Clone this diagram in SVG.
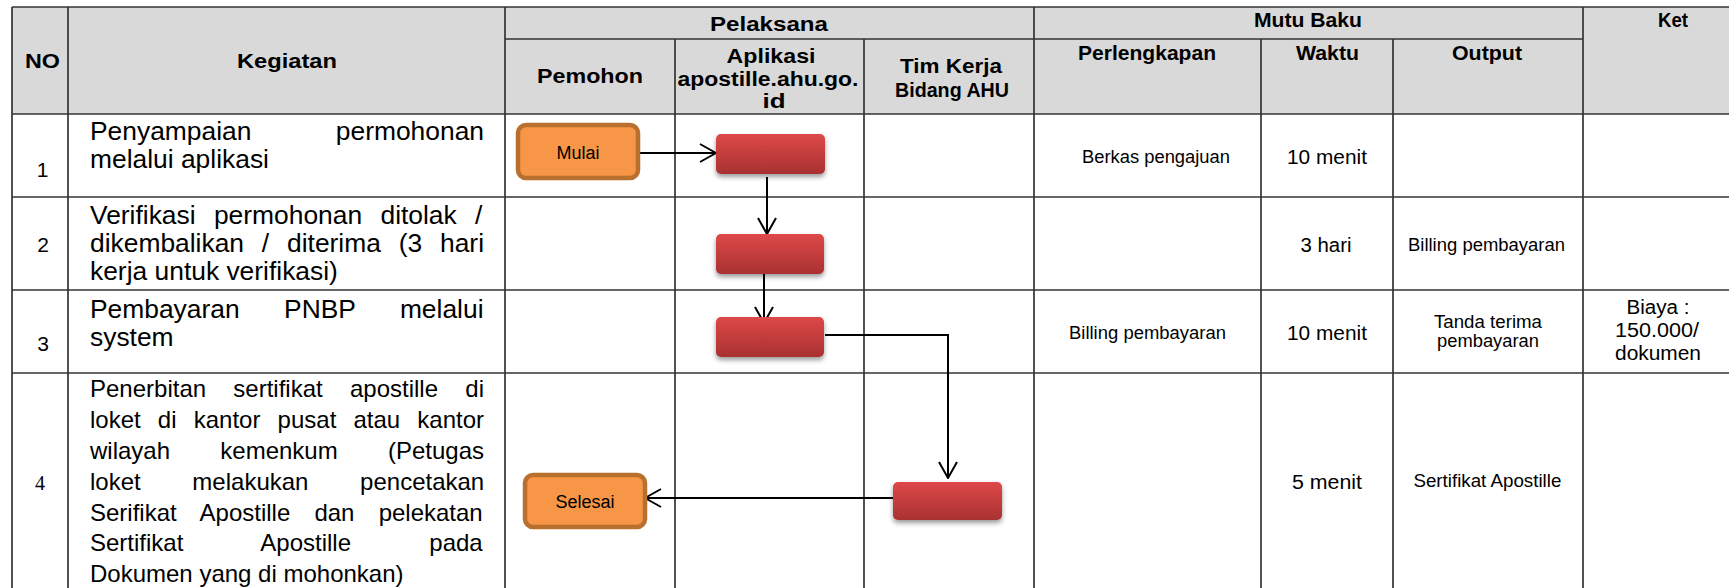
<svg xmlns="http://www.w3.org/2000/svg" width="1729" height="588" viewBox="0 0 1729 588">
<style>
text{font-family:"Liberation Sans",Arial,sans-serif;fill:#000}
.hd{font-weight:bold;font-size:19.5px;text-anchor:middle}
.tx{font-size:26.4px}
.tx4{font-size:24px}
.sm{font-size:17.5px;text-anchor:middle}
.md{font-size:19.5px;text-anchor:middle}
.num{font-size:21px;text-anchor:middle}
.num4{font-family:"Liberation Serif","Times New Roman",serif;font-size:20px;text-anchor:middle}
.grid line{stroke:#333;stroke-width:1.7}
.conn path{fill:none;stroke:#000;stroke-width:2;marker-end:url(#arr)}
.start rect{fill:#F79646;stroke:#B9702F;stroke-width:4.5}
.start text{font-size:18px;text-anchor:middle}
.proc rect{fill:url(#red);filter:url(#sh)}
</style>
<defs>
<linearGradient id="red" x1="0" y1="0" x2="0" y2="1">
<stop offset="0" stop-color="#DE4848"/>
<stop offset="1" stop-color="#A93131"/>
</linearGradient>
<filter id="sh" x="-20%" y="-30%" width="140%" height="180%">
<feDropShadow dx="0" dy="3" stdDeviation="2.5" flood-color="#000" flood-opacity="0.4"/>
</filter>
<marker id="arr" viewBox="0 0 18 20" refX="17" refY="10" markerWidth="18" markerHeight="20" markerUnits="userSpaceOnUse" orient="auto">
<path d="M1,1 L17,10 L1,19" fill="none" stroke="#000" stroke-width="2"/>
</marker>
</defs>
<rect x="0" y="0" width="1729" height="588" fill="#fff"/>
<g id="table">
<rect x="12" y="7" width="1717" height="107" fill="#D9D9D9"/>
<g class="grid">
<line x1="12" y1="7" x2="1729" y2="7"/>
<line x1="505" y1="39" x2="1583" y2="39"/>
<line x1="12" y1="114" x2="1729" y2="114"/>
<line x1="12" y1="197" x2="1729" y2="197"/>
<line x1="12" y1="290" x2="1729" y2="290"/>
<line x1="12" y1="373" x2="1729" y2="373"/>
<line x1="12" y1="7" x2="12" y2="588"/>
<line x1="68" y1="7" x2="68" y2="588"/>
<line x1="505" y1="7" x2="505" y2="588"/>
<line x1="675" y1="39" x2="675" y2="588"/>
<line x1="864" y1="39" x2="864" y2="588"/>
<line x1="1034" y1="7" x2="1034" y2="588"/>
<line x1="1261" y1="39" x2="1261" y2="588"/>
<line x1="1393" y1="39" x2="1393" y2="588"/>
<line x1="1583" y1="7" x2="1583" y2="588"/>
</g>
<g id="header">
<text class="hd" x="42.5" y="68" textLength="35" lengthAdjust="spacingAndGlyphs">NO</text>
<text class="hd" x="287" y="68" textLength="100" lengthAdjust="spacingAndGlyphs">Kegiatan</text>
<text class="hd" x="769" y="31" textLength="118" lengthAdjust="spacingAndGlyphs">Pelaksana</text>
<text class="hd" x="1308" y="27" textLength="108" lengthAdjust="spacingAndGlyphs">Mutu Baku</text>
<text class="hd" x="1673" y="27" textLength="30" lengthAdjust="spacingAndGlyphs">Ket</text>
<text class="hd" x="590" y="83" textLength="106" lengthAdjust="spacingAndGlyphs">Pemohon</text>
<text class="hd" x="771" y="63" textLength="89" lengthAdjust="spacingAndGlyphs">Aplikasi</text>
<text class="hd" x="768" y="85.5" textLength="181" lengthAdjust="spacingAndGlyphs">apostille.ahu.go.</text>
<text class="hd" x="774" y="108" textLength="23" lengthAdjust="spacingAndGlyphs">id</text>
<text class="hd" x="951" y="73" textLength="102" lengthAdjust="spacingAndGlyphs">Tim Kerja</text>
<text class="hd" x="952" y="97" textLength="114" lengthAdjust="spacingAndGlyphs">Bidang AHU</text>
<text class="hd" x="1147" y="59.5" textLength="138" lengthAdjust="spacingAndGlyphs">Perlengkapan</text>
<text class="hd" x="1327.5" y="59.5" textLength="63" lengthAdjust="spacingAndGlyphs">Waktu</text>
<text class="hd" x="1487" y="59.5" textLength="70" lengthAdjust="spacingAndGlyphs">Output</text>
</g>
<g id="row1">
<text class="num" x="42.5" y="177">1</text>
<text class="tx" x="90" y="140" style="word-spacing:77.1px">Penyampaian permohonan</text>
<text class="tx" x="90" y="168">melalui aplikasi</text>
<text class="sm" x="1156" y="162.5" textLength="148" lengthAdjust="spacingAndGlyphs">Berkas pengajuan</text>
<text class="md" x="1327" y="164" textLength="80" lengthAdjust="spacingAndGlyphs">10 menit</text>
</g>
<g id="row2">
<text class="num" x="43" y="252">2</text>
<text class="tx" x="90" y="224" style="word-spacing:11px">Verifikasi permohonan ditolak /</text>
<text class="tx" x="90" y="252" style="word-spacing:10.5px">dikembalikan / diterima (3 hari</text>
<text class="tx" x="90" y="280">kerja untuk verifikasi)</text>
<text class="md" x="1326" y="252" textLength="51" lengthAdjust="spacingAndGlyphs">3 hari</text>
<text class="sm" x="1486.5" y="250.5" textLength="157" lengthAdjust="spacingAndGlyphs">Billing pembayaran</text>
</g>
<g id="row3">
<text class="num" x="43" y="351">3</text>
<text class="tx" x="90" y="318" style="word-spacing:37.1px">Pembayaran PNBP melalui</text>
<text class="tx" x="90" y="346">system</text>
<text class="sm" x="1147.5" y="339" textLength="157" lengthAdjust="spacingAndGlyphs">Billing pembayaran</text>
<text class="md" x="1327" y="340" textLength="80" lengthAdjust="spacingAndGlyphs">10 menit</text>
<text class="sm" x="1488" y="328" textLength="108" lengthAdjust="spacingAndGlyphs">Tanda terima</text>
<text class="sm" x="1488" y="347" textLength="102" lengthAdjust="spacingAndGlyphs">pembayaran</text>
<text class="md" x="1658" y="314" textLength="63" lengthAdjust="spacingAndGlyphs">Biaya :</text>
<text class="md" x="1657" y="337" textLength="84" lengthAdjust="spacingAndGlyphs">150.000/</text>
<text class="md" x="1658" y="359.5" textLength="86" lengthAdjust="spacingAndGlyphs">dokumen</text>
</g>
<g id="row4">
<text class="num4" x="40" y="490">4</text>
<text class="tx4" x="90" y="397" style="word-spacing:20.6px">Penerbitan sertifikat apostille di</text>
<text class="tx4" x="90" y="428" style="word-spacing:10.5px">loket di kantor pusat atau kantor</text>
<text class="tx4" x="90" y="459" style="word-spacing:43.6px">wilayah kemenkum (Petugas</text>
<text class="tx4" x="90" y="490" style="word-spacing:45px">loket melakukan pencetakan</text>
<text class="tx4" x="90" y="521" style="word-spacing:17.5px">Serifikat Apostille dan pelekatan</text>
<text class="tx4" x="90" y="551" style="word-spacing:71.6px">Sertifikat Apostille pada</text>
<text class="tx4" x="90" y="582">Dokumen yang di mohonkan)</text>
<text class="md" x="1327" y="489" textLength="70" lengthAdjust="spacingAndGlyphs">5 menit</text>
<text class="sm" x="1487.4" y="487.3" textLength="148" lengthAdjust="spacingAndGlyphs">Sertifikat Apostille</text>
</g>
</g>
<g id="connectors" class="conn">
<path d="M638,153 H716"/>
<path d="M767,177 V234"/>
<path d="M764,274 V323"/>
<path d="M825,335 H948 V478"/>
<path d="M893,498 H645"/>
</g>
<g id="mulai" class="start">
<rect x="518" y="125" width="120" height="53" rx="8"/>
<text x="578" y="159">Mulai</text>
</g>
<g id="proses1" class="proc">
<rect x="716" y="134" width="109" height="40" rx="5"/>
</g>
<g id="proses2" class="proc">
<rect x="716" y="234" width="108" height="40" rx="5"/>
</g>
<g id="proses3" class="proc">
<rect x="716" y="317" width="108" height="40" rx="5"/>
</g>
<g id="proses4" class="proc">
<rect x="893" y="482" width="109" height="38" rx="5"/>
</g>
<g id="selesai" class="start">
<rect x="525" y="475" width="120" height="52" rx="8"/>
<text x="585" y="508">Selesai</text>
</g>
</svg>
